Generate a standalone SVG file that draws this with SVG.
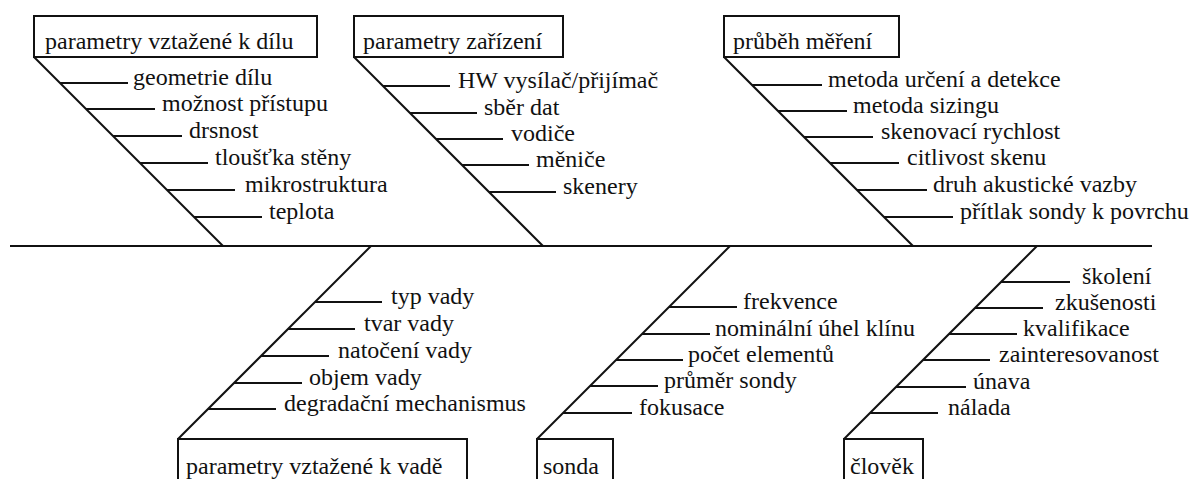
<svg xmlns="http://www.w3.org/2000/svg" width="1196" height="479" viewBox="0 0 1196 479">
<style>
.ln{stroke:#111;stroke-width:2;fill:none}
.bx{stroke:#111;stroke-width:2;fill:#fff}
text{font-family:'Liberation Serif','DejaVu Serif',serif;font-size:24px;fill:#111}
</style>
<rect width="1196" height="479" fill="#fff"/>
<g id="connectors">
<line class="ln" x1="10" y1="246" x2="1152" y2="246"/>
<line class="ln" x1="34" y1="57" x2="223" y2="246"/>
<line class="ln" x1="354" y1="57" x2="543" y2="246"/>
<line class="ln" x1="724" y1="57" x2="913" y2="246"/>
<line class="ln" x1="178" y1="439" x2="371" y2="246"/>
<line class="ln" x1="537" y1="439" x2="730" y2="246"/>
<line class="ln" x1="844" y1="439" x2="1037" y2="246"/>
</g>
<g id="node-dil" font-family="Liberation Serif, DejaVu Serif, serif">
<rect class="bx" x="34" y="16" width="283" height="41"/>
<text x="45" y="49">parametry vztažené k dílu</text>
<g class="ln">
<line x1="60" y1="83" x2="128" y2="83"/>
<line x1="86" y1="109" x2="155" y2="109"/>
<line x1="113" y1="136" x2="182" y2="136"/>
<line x1="140" y1="163" x2="208" y2="163"/>
<line x1="167" y1="190" x2="235" y2="190"/>
<line x1="194" y1="217" x2="262" y2="217"/>
</g>
<text x="133" y="85">geometrie dílu</text>
<text x="162" y="111">možnost přístupu</text>
<text x="189" y="138">drsnost</text>
<text x="215" y="165">tloušťka stěny</text>
<text x="245" y="192">mikrostruktura</text>
<text x="269" y="219">teplota</text>
</g>
<g id="node-zarizeni">
<rect class="bx" x="354" y="16" width="209" height="41"/>
<text x="363" y="49">parametry zařízení</text>
<g class="ln">
<line x1="383" y1="86" x2="450" y2="86"/>
<line x1="410" y1="113" x2="477" y2="113"/>
<line x1="436" y1="139" x2="503" y2="139"/>
<line x1="462" y1="165" x2="529" y2="165"/>
<line x1="489" y1="192" x2="556" y2="192"/>
</g>
<text x="458" y="88">HW vysílač/přijímač</text>
<text x="484" y="115">sběr dat</text>
<text x="511" y="141">vodiče</text>
<text x="536" y="167">měniče</text>
<text x="563" y="194">skenery</text>
</g>
<g id="node-mereni">
<rect class="bx" x="724" y="16" width="175" height="41"/>
<text x="733" y="49">průběh měření</text>
<g class="ln">
<line x1="752" y1="85" x2="822" y2="85"/>
<line x1="778" y1="111" x2="847" y2="111"/>
<line x1="804" y1="137" x2="873" y2="137"/>
<line x1="830" y1="163" x2="899" y2="163"/>
<line x1="857" y1="190" x2="927" y2="190"/>
<line x1="884" y1="217" x2="953" y2="217"/>
</g>
<text x="828" y="87">metoda určení a detekce</text>
<text x="853" y="113">metoda sizingu</text>
<text x="881" y="139">skenovací rychlost</text>
<text x="907" y="165">citlivost skenu</text>
<text x="933" y="192">druh akustické vazby</text>
<text x="960" y="219">přítlak sondy k povrchu</text>
</g>
<g id="node-vada">
<rect class="bx" x="178" y="439" width="289" height="50"/>
<text x="186" y="474">parametry vztažené k vadě</text>
<g class="ln">
<line x1="315" y1="302" x2="382" y2="302"/>
<line x1="288" y1="329" x2="355" y2="329"/>
<line x1="261" y1="356" x2="329" y2="356"/>
<line x1="234" y1="383" x2="302" y2="383"/>
<line x1="208" y1="409" x2="276" y2="409"/>
</g>
<text x="391" y="304">typ vady</text>
<text x="364" y="331">tvar vady</text>
<text x="338" y="358">natočení vady</text>
<text x="309" y="385">objem vady</text>
<text x="284" y="411">degradační mechanismus</text>
</g>
<g id="node-sonda">
<rect class="bx" x="537" y="439" width="76" height="50"/>
<text x="543" y="474">sonda</text>
<g class="ln">
<line x1="669" y1="307" x2="737" y2="307"/>
<line x1="642" y1="334" x2="710" y2="334"/>
<line x1="616" y1="360" x2="683" y2="360"/>
<line x1="590" y1="386" x2="658" y2="386"/>
<line x1="563" y1="413" x2="632" y2="413"/>
</g>
<text x="743" y="309">frekvence</text>
<text x="715" y="336">nominální úhel klínu</text>
<text x="688" y="362">počet elementů</text>
<text x="664" y="388">průměr sondy</text>
<text x="639" y="415">fokusace</text>
</g>
<g id="node-clovek">
<rect class="bx" x="844" y="439" width="79" height="50"/>
<text x="850" y="474">člověk</text>
<g class="ln">
<line x1="1001" y1="282" x2="1070" y2="282"/>
<line x1="975" y1="308" x2="1043" y2="308"/>
<line x1="949" y1="334" x2="1017" y2="334"/>
<line x1="923" y1="360" x2="990" y2="360"/>
<line x1="896" y1="387" x2="966" y2="387"/>
<line x1="870" y1="413" x2="938" y2="413"/>
</g>
<text x="1082" y="284">školení</text>
<text x="1055" y="310">zkušenosti</text>
<text x="1023" y="336">kvalifikace</text>
<text x="999" y="362">zainteresovanost</text>
<text x="973" y="389">únava</text>
<text x="948" y="415">nálada</text>
</g>
</svg>
